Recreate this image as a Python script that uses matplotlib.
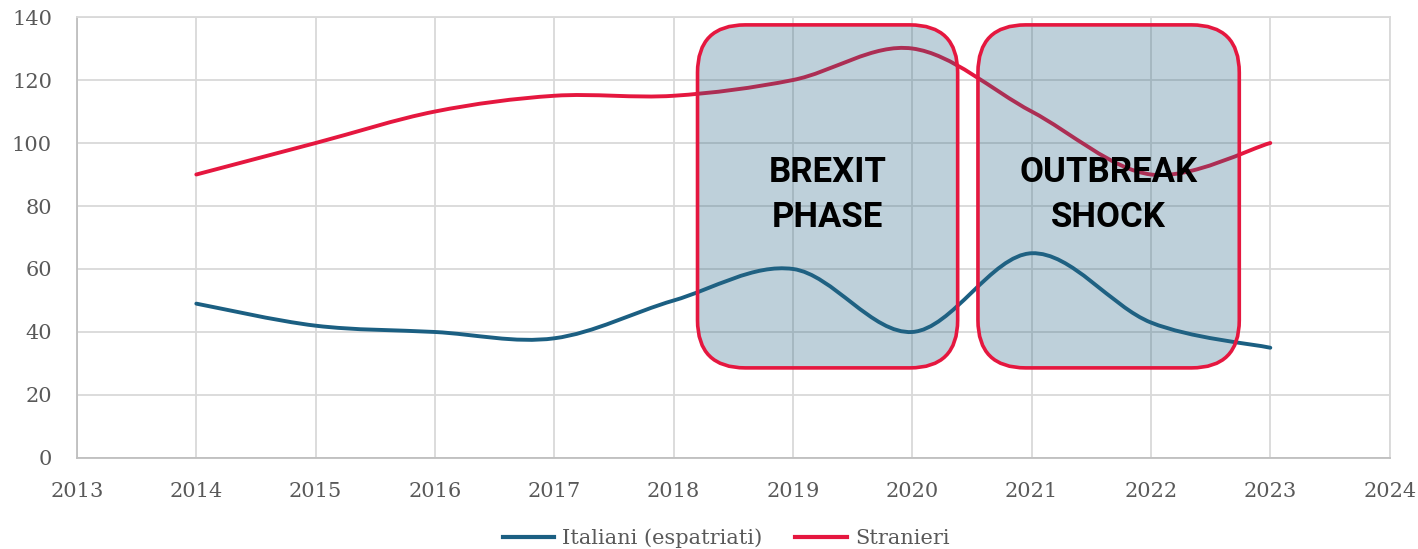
import matplotlib
matplotlib.use("Agg")
import matplotlib.pyplot as plt
from matplotlib.path import Path
from matplotlib.patches import PathPatch, FancyBboxPatch
from matplotlib.lines import Line2D

years = [2014, 2015, 2016, 2017, 2018, 2019, 2020, 2021, 2022, 2023]
italiani = [49, 42, 40, 38, 50, 60, 40, 65, 43, 35]
stranieri = [90, 100, 110, 115, 115, 120, 130, 110, 90, 100]
series_names = ["Italiani (espatriati)", "Stranieri"]
x_ticks = list(range(2013, 2025))
y_ticks = list(range(0, 141, 20))
phases = [("BREXIT\nPHASE", 2018.2, 2020.38), ("OUTBREAK\nSHOCK", 2020.55, 2022.74)]
phase_y = (28.6, 137.5)

BLUE = "#1b5f82"
RED = "#e5173f"
TXT = "#595959"

def smooth_path(xs, ys):
    pts = list(zip(xs, ys))
    verts = [pts[0]]
    codes = [Path.MOVETO]
    n = len(pts)
    for i in range(n - 1):
        p0 = pts[i - 1] if i > 0 else pts[i]
        p1 = pts[i]
        p2 = pts[i + 1]
        p3 = pts[i + 2] if i + 2 < n else pts[i + 1]
        c1 = (p1[0] + (p2[0] - p0[0]) / 6, p1[1] + (p2[1] - p0[1]) / 6)
        c2 = (p2[0] - (p3[0] - p1[0]) / 6, p2[1] - (p3[1] - p1[1]) / 6)
        verts += [c1, c2, p2]
        codes += [Path.CURVE4] * 3
    return Path(verts, codes)

fig = plt.figure(figsize=(14.18, 5.49), dpi=100)
ax = fig.add_axes([0.0543, 0.1658, 0.9257, 0.8032])
ax.set_xlim(2013, 2024)
ax.set_ylim(0, 140)
ax.set_xticks(x_ticks)
ax.set_yticks(y_ticks)
ax.grid(True, color="#d9d9d9", linewidth=1.3, zorder=0)
ax.set_axisbelow(True)
for s in ax.spines.values():
    s.set_color("#d9d9d9")
    s.set_linewidth(1.3)
ax.spines["left"].set_color("#bfbfbf")
ax.spines["bottom"].set_color("#bfbfbf")
ax.tick_params(length=0, labelsize=15, labelcolor=TXT)
ax.tick_params(axis="x", pad=17)
ax.tick_params(axis="y", pad=18)
for lab in ax.get_xticklabels() + ax.get_yticklabels():
    lab.set_family("DejaVu Serif")

for vals, col in [(italiani, BLUE), (stranieri, RED)]:
    ax.add_patch(PathPatch(smooth_path(years, vals), facecolor="none",
                           edgecolor=col, linewidth=2.8, zorder=2,
                           capstyle="round"))

ppx = 1313 / 11
ppy = 441 / 140
aspect = ppx / ppy
r = 0.40
for label, x0, x1 in phases:
    box = FancyBboxPatch((x0, phase_y[0]), x1 - x0, phase_y[1] - phase_y[0],
                         boxstyle=f"round,pad=0,rounding_size={r}",
                         mutation_aspect=aspect,
                         facecolor=(0.16, 0.40, 0.52, 0.30),
                         edgecolor=RED, linewidth=2.6, zorder=3)
    ax.add_patch(box)
    ax.text((x0 + x1) / 2, sum(phase_y) / 2 + 0.5, label, ha="center", va="center",
            fontsize=25, fontweight="bold", family="Roboto", color="black",
            linespacing=1.45, zorder=4)

handles = [Line2D([], [], color=BLUE, lw=3), Line2D([], [], color=RED, lw=3)]
leg = fig.legend(handles, series_names, loc="center", ncol=2,
                 bbox_to_anchor=(0.512, 0.02), frameon=False,
                 prop={"family": "DejaVu Serif", "size": 15},
                 handlelength=2.45, handletextpad=0.4, columnspacing=1.6,
                 labelcolor=TXT)

fig.savefig("out.png", dpi=100)
